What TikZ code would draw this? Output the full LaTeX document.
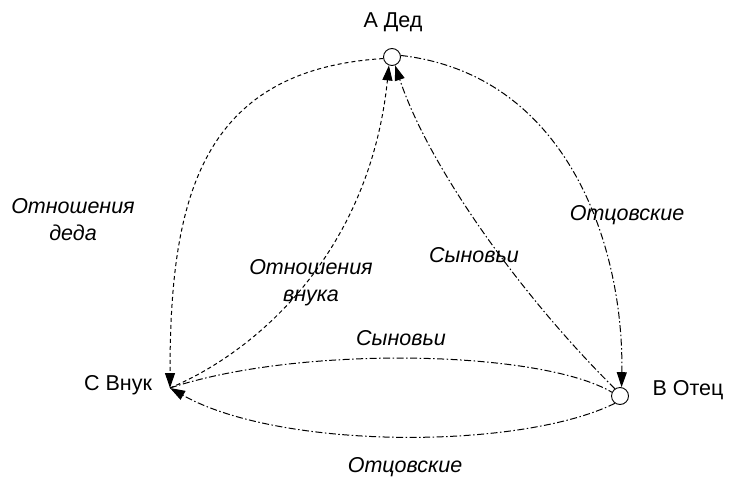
\documentclass[tikz,border=0pt]{standalone}
\usepackage{fontspec}
\setmainfont{Liberation Sans}
\usetikzlibrary{arrows.meta}
\begin{document}
\begin{tikzpicture}[x=1pt,y=-1pt,
  vertex/.style={circle, draw, line width=0.9pt, fill=white, inner sep=0pt, minimum size=17pt},
  relname/.style={font=\fontsize{21.5}{27}\selectfont\itshape, align=center},
  personname/.style={font=\fontsize{21.5}{24}\selectfont},
  kin/.style={line width=1pt, dash pattern=on 4pt off 3pt},
  filial/.style={line width=1pt, dash pattern=on 7pt off 2.5pt on 1.5pt off 2.5pt},
  tip/.style={-{Triangle[length=15pt,width=10pt]}}]
\useasboundingbox (0,0) rectangle (738,479);
% persons
\node[vertex] (ded) at (392,57) {};
\node[vertex] (otec) at (620,396) {};
\coordinate (vnuk) at (170,388);
\node[personname] (dedlbl) at (393,22) {А Дед};
\node[personname] (vnuklbl) at (118,385) {С Внук};
\node[personname] (oteclbl) at (688,390) {В Отец};
% grandfather / grandson
\draw[kin, tip] (ded.190) .. controls (200,70) and (170,200) .. (vnuk);
\draw[kin, tip] (vnuk) .. controls (260,350) and (370,250) .. (ded.250);
% father / son
\draw[filial, tip] (otec.125) .. controls (525,300) and (430,170) .. (ded.290);
\draw[filial, tip] (ded.10) .. controls (570,75) and (624,250) .. (otec.80);
\draw[filial] (vnuk) .. controls (300,345) and (540,350) .. (otec.155);
\draw[filial, tip] (otec.235) .. controls (520,450) and (280,450) .. (vnuk);
% relation names
\node[relname] (lbldeda) at (73,220) {Отношения\\деда};
\node[relname] (lblvnuka) at (311,283) {Отношения\\внука};
\node[relname] (lblsyn1) at (474,255) {Сыновьи};
\node[relname] (lblotc1) at (627,215) {Отцовские};
\node[relname] (lblsyn2) at (401,338) {Сыновьи};
\node[relname] (lblotc2) at (405,467) {Отцовские};
\end{tikzpicture}
\end{document}
